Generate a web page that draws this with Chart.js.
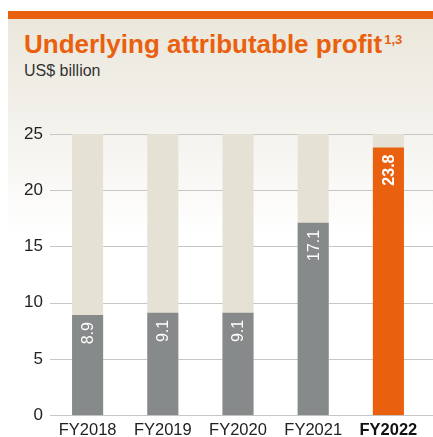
<!DOCTYPE html>
<html>
<head>
<meta charset="utf-8">
<script src="https://cdn.jsdelivr.net/npm/chart.js@4/dist/chart.umd.min.js"></script>
<style>
  html, body { margin: 0; padding: 0; background: #fff; }
  body { width: 433px; height: 437px; position: relative; overflow: hidden;
         font-family: "Liberation Sans", Arial, sans-serif; }
  .panel { position: absolute; left: 8px; top: 11px; right: 0; bottom: 0;
           border-top: 8px solid #e9600e;
           background: linear-gradient(to bottom, #ebe7dc 0px, #f4f2ed 110px, #ffffff 215px); }
  .title { position: absolute; left: 24px; top: 29px; margin: 0; line-height: 30px;
           font-size: 26px; font-weight: bold; color: #e9600e; white-space: nowrap; }
  .title sup { font-size: 13px; position: relative; top: 4px; vertical-align: top; margin-left: 2px; line-height: 13px; }
  .sub { position: absolute; left: 24px; top: 62px; font-size: 16px; color: #333; }
  #chart { position: absolute; left: 0; top: 0; }
</style>
</head>
<body>
<div class="panel"></div>
<div class="title">Underlying attributable profit<sup>1,3</sup></div>
<div class="sub">US$ billion</div>
<canvas id="chart" width="433" height="437"></canvas>
<script>
const categories = ["FY2018", "FY2019", "FY2020", "FY2021", "FY2022"];
const profit = [8.9, 9.1, 9.1, 17.1, 23.8];
const track = [25, 25, 25, 25, 25];
const yTicks = [0, 5, 10, 15, 20, 25];

const GREY = "#878a8a";
const ORANGE = "#e9600e";
const TRACK = "#e5e1d5";
const FONT = "'Liberation Sans', Arial, sans-serif";

const barColors = categories.map((c, i) => (i === categories.length - 1 ? ORANGE : GREY));

// grid lines run from the axis to the right edge of the page
const gridPlugin = {
  id: "gridPlugin",
  beforeDatasetsDraw(chart) {
    const { ctx } = chart;
    const y = chart.scales.y;
    ctx.save();
    ctx.strokeStyle = "#c6c6c6";
    ctx.lineWidth = 1.2;
    yTicks.forEach((t) => {
      const py = Math.round(y.getPixelForValue(t)) + 0.5;
      ctx.beginPath();
      ctx.moveTo(chart.chartArea.left, py);
      ctx.lineTo(chart.width, py);
      ctx.stroke();
    });
    ctx.restore();
  }
};

// value labels, rotated, inside the top of each bar
const labelPlugin = {
  id: "labelPlugin",
  afterDatasetsDraw(chart) {
    const { ctx } = chart;
    const meta = chart.getDatasetMeta(0);
    ctx.save();
    ctx.fillStyle = "#fff";
    meta.data.forEach((bar, i) => {
      const last = i === profit.length - 1;
      ctx.save();
      ctx.font = (last ? "bold " : "") + "16px " + FONT;
      ctx.translate(bar.x + 1, bar.y + 7);
      ctx.rotate(-Math.PI / 2);
      ctx.textAlign = "right";
      ctx.textBaseline = "middle";
      ctx.fillText(profit[i].toFixed(1), 0, 0);
      ctx.restore();
    });
    ctx.restore();
  }
};

new Chart(document.getElementById("chart"), {
  type: "bar",
  data: {
    labels: categories,
    datasets: [
      {
        data: profit,
        backgroundColor: barColors,
        grouped: false,
        order: 1,
        barPercentage: 0.413,
        categoryPercentage: 1
      },
      {
        data: track,
        backgroundColor: TRACK,
        grouped: false,
        order: 2,
        barPercentage: 0.413,
        categoryPercentage: 1
      }
    ]
  },
  options: {
    responsive: false,
    animation: false,
    layout: { padding: { top: 134, right: 7, bottom: -8, left: 0 } },
    plugins: { legend: { display: false }, tooltip: { enabled: false } },
    scales: {
      x: {
        grid: { display: false, drawTicks: false },
        border: { display: false },
        ticks: {
          padding: 5,
          color: (c) => (c.index === categories.length - 1 ? "#111" : "#222"),
          font: (c) => ({
            family: FONT,
            size: 16.5,
            weight: c.index === categories.length - 1 ? "bold" : "normal"
          })
        }
      },
      y: {
        min: 0,
        max: 25,
        afterFit(scale) { scale.width = 50; },
        afterBuildTicks(scale) { scale.ticks = yTicks.map((v) => ({ value: v })); },
        grid: { display: false, drawTicks: false },
        border: { display: false },
        ticks: {
          padding: 7,
          color: "#222",
          font: { family: FONT, size: 17 }
        }
      }
    }
  },
  plugins: [gridPlugin, labelPlugin]
});
</script>
</body>
</html>
